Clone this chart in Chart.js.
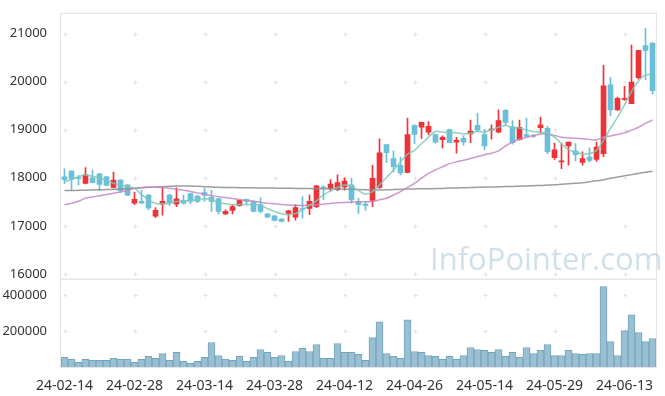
<!DOCTYPE html>
<html>
<head>
<meta charset="utf-8">
<script src="https://cdn.jsdelivr.net/npm/chart.js@4.4.1/dist/chart.umd.min.js"></script>
<style>
  html, body { margin: 0; padding: 0; background: #fff; }
  canvas { display: block; }
</style>
</head>
<body>
<canvas id="stock-chart" width="665" height="396"></canvas>
<script>
// trading days
const dates = [
    "24-02-14","24-02-15","24-02-16","24-02-19","24-02-20","24-02-21","24-02-22","24-02-23","24-02-26","24-02-27",
    "24-02-28","24-02-29","24-03-04","24-03-05","24-03-06","24-03-07","24-03-08","24-03-11","24-03-12","24-03-13",
    "24-03-14","24-03-15","24-03-18","24-03-19","24-03-20","24-03-21","24-03-22","24-03-25","24-03-26","24-03-27",
    "24-03-28","24-03-29","24-04-01","24-04-02","24-04-03","24-04-04","24-04-05","24-04-08","24-04-09","24-04-11",
    "24-04-12","24-04-15","24-04-16","24-04-17","24-04-18","24-04-19","24-04-22","24-04-23","24-04-24","24-04-25",
    "24-04-26","24-04-29","24-04-30","24-05-02","24-05-03","24-05-07","24-05-08","24-05-09","24-05-10","24-05-13",
    "24-05-14","24-05-16","24-05-17","24-05-20","24-05-21","24-05-22","24-05-23","24-05-24","24-05-27","24-05-28",
    "24-05-29","24-05-30","24-05-31","24-06-03","24-06-04","24-06-05","24-06-07","24-06-10","24-06-11","24-06-12",
    "24-06-13","24-06-14","24-06-17","24-06-18","24-06-19"
];

const opens = [
    18020,18140,17990,17880,18000,18080,18020,17800,17950,17850,
    17470,17510,17640,17200,17450,17640,17450,17530,17670,17620,
    17690,17590,17560,17250,17320,17420,17550,17510,17440,17250,
    17210,17140,17260,17180,17360,17360,17400,17810,17780,17750,
    17810,17850,17510,17450,17530,17800,18690,18400,18260,18110,
    19090,19050,18950,18900,18790,19000,18740,18820,18910,19090,
    18900,18990,18950,19400,19060,18790,18900,18880,19040,19030,
    18420,18330,18660,18560,18320,18430,18380,18500,19930,19410,
    19630,19540,20080,20750,20800
];
const highs = [
    18185,18150,18050,18210,18165,18090,18030,18120,17960,17860,
    17700,17740,17650,17380,17780,17660,17790,17640,17680,17640,
    17780,17740,17570,17330,17430,17530,17560,17520,17580,17260,
    17220,17150,17320,17440,17610,17640,17840,17830,17960,18060,
    18000,17990,17570,17500,18260,18810,18700,18560,18430,19240,
    19100,19160,19170,18910,18870,19010,18840,18870,19200,19340,
    19000,19100,19410,19410,19190,19200,19240,18900,19260,19070,
    18720,18710,18740,18710,18540,18620,18740,20340,20090,19680,
    19900,20760,20650,21110,20810
];
const lows = [
    17877,17750,17850,17870,17890,17730,17830,17790,17690,17630,
    17440,17470,17330,17170,17220,17420,17400,17450,17460,17480,
    17510,17300,17250,17230,17250,17410,17430,17290,17270,17170,
    17100,17080,17090,17120,17160,17230,17380,17540,17720,17730,
    17740,17470,17260,17320,17400,17780,18320,18120,18060,18100,
    18710,18820,18890,18720,18620,18730,18510,18680,18730,18960,
    18580,18800,18930,19100,18700,18780,18850,18840,18930,18500,
    18380,18190,18260,18350,18260,18330,18340,18440,19290,19400,
    19610,19540,20050,20040,19740
];
const closes = [
    17960,17970,17980,18060,17900,17860,17840,17950,17730,17640,
    17550,17470,17370,17320,17510,17470,17560,17470,17510,17510,
    17640,17510,17300,17300,17400,17530,17510,17300,17300,17180,
    17110,17090,17310,17380,17340,17510,17830,17790,17870,17900,
    17930,17540,17440,17420,17990,18520,18520,18230,18100,18900,
    18900,19150,19070,18740,18840,18730,18780,18740,18970,18990,
    18660,19010,19190,19150,18730,19050,18860,18860,19100,18540,
    18580,18350,18740,18480,18400,18360,18640,19910,19410,19650,
    19650,19990,20650,20650,19810
];
const volumes = [
    53000,42000,26000,42000,37000,37000,37000,48000,42000,42000,
    26000,42000,59000,48000,75000,37000,81000,31000,20000,31000,
    53000,136000,64000,42000,37000,59000,31000,53000,97000,81000,
    53000,64000,31000,86000,103000,86000,125000,48000,48000,130000,
    81000,81000,70000,37000,163000,251000,75000,59000,48000,262000,
    86000,81000,64000,59000,42000,59000,42000,64000,108000,97000,
    92000,81000,97000,59000,81000,53000,108000,75000,92000,125000,
    64000,64000,92000,75000,70000,75000,75000,446000,141000,64000,
    202000,290000,191000,141000,158000
];

// moving averages
const ma5 = [
    17918,17960,18020,18055,18030,17990,17950,17885,17850,17815,
    17780,17650,17541,17471,17460,17471,17506,17515,17527,17545,
    17562,17540,17486,17459,17438,17445,17445,17440,17424,17360,
    17300,17250,17232,17253,17335,17424,17520,17644,17726,17800,
    17850,17829,17732,17657,17712,17850,18007,18158,18329,18488,
    18570,18707,18844,18961,18947,18940,18935,18912,18926,18961,
    18953,18994,19050,19085,19035,19035,18994,18961,18947,18926,
    18844,18706,18583,18535,18501,18501,18570,18776,19029,19255,
    19516,19790,20011,20134,20146
];
const ma20 = [
    17438,17470,17510,17574,17600,17625,17650,17677,17705,17735,
    17780,17795,17800,17800,17795,17780,17760,17740,17712,17685,
    17657,17630,17605,17590,17570,17545,17527,17510,17490,17472,
    17459,17445,17435,17428,17424,17430,17438,17450,17465,17478,
    17486,17492,17498,17502,17506,17540,17574,17640,17712,17800,
    17883,17990,18089,18165,18226,18294,18330,18364,18400,18440,
    18480,18510,18560,18660,18740,18800,18840,18880,18910,18912,
    18880,18844,18830,18820,18809,18798,18788,18844,18870,18900,
    18933,18990,19050,19130,19200
];
const ma60 = [
    17732,17735,17738,17742,17746,17750,17755,17760,17765,17770,
    17780,17790,17800,17808,17815,17822,17829,17829,17826,17822,
    17815,17808,17800,17798,17796,17794,17792,17790,17788,17786,
    17784,17782,17780,17778,17776,17774,17772,17770,17768,17765,
    17762,17758,17754,17750,17747,17747,17750,17755,17760,17765,
    17767,17770,17772,17775,17778,17785,17788,17792,17795,17800,
    17805,17808,17812,17816,17820,17825,17830,17835,17840,17848,
    17855,17865,17875,17885,17897,17915,17935,17960,17990,18015,
    18040,18065,18090,18115,18137
];

const priceTicks = [16000, 17000, 18000, 19000, 20000, 21000];
const volumeTicks = [200000, 400000];

const RED = '#ec3338';
const BLUE = '#69c0d8';

const candleColors = opens.map((o, i) => closes[i] >= o ? RED : BLUE);

// plus-shaped grid marks, frame boxes and the watermark
const decorPlugin = {
    id: 'decor',
    beforeDatasetsDraw(chart) {
        const ctx = chart.ctx;
        const x = chart.scales.x;
        const y = chart.scales.y;
        const yv = chart.scales.yv;
        ctx.save();

        // frames
        ctx.strokeStyle = '#e4e4e4';
        ctx.lineWidth = 1;
        ctx.strokeRect(x.left - 0.5, y.top - 0.5, x.right - x.left + 1, y.bottom - y.top + 1);
        ctx.strokeRect(x.left - 0.5, yv.top + 0.5, x.right - x.left + 1, yv.bottom - yv.top);

        // plus marks
        ctx.strokeStyle = '#e2e2e2';
        const xs = [];
        for (let i = 0; i < dates.length; i += 10) xs.push(Math.round(x.getPixelForValue(i)) + 0.5);
        const ys = priceTicks.map(v => Math.round(y.getPixelForValue(v)) + 0.5)
            .concat(volumeTicks.map(v => Math.round(yv.getPixelForValue(v)) + 0.5));
        ctx.beginPath();
        xs.forEach(px => {
            ys.forEach(py => {
                ctx.moveTo(px - 2, py); ctx.lineTo(px + 2, py);
                ctx.moveTo(px, py - 2); ctx.lineTo(px, py + 2);
            });
        });
        ctx.stroke();

        // watermark
        ctx.fillStyle = 'rgba(175, 203, 220, 0.6)';
        ctx.font = '31px "Open Sans", "Noto Sans", sans-serif';
        ctx.textAlign = 'left';
        ctx.textBaseline = 'alphabetic';
        ctx.fillText('InfoPointer.com', x.left + 369, y.bottom - 9);
        ctx.restore();
    }
};

const plainNumber = v => String(v);

const buildChart = () => {
    const canvas = document.getElementById('stock-chart');
    new Chart(canvas, {
        data: {
            labels: dates,
            datasets: [
                {
                    type: 'line', label: 'MA5', data: ma5, yAxisID: 'y',
                    borderColor: 'rgba(125, 200, 185, 0.85)', borderWidth: 1.5,
                    pointRadius: 0, tension: 0.35, order: 0
                },
                {
                    type: 'line', label: 'MA20', data: ma20, yAxisID: 'y',
                    borderColor: 'rgba(196, 134, 196, 0.85)', borderWidth: 1.5,
                    pointRadius: 0, tension: 0.35, order: 0
                },
                {
                    type: 'line', label: 'MA60', data: ma60, yAxisID: 'y',
                    borderColor: 'rgba(140, 140, 140, 0.85)', borderWidth: 1.5,
                    pointRadius: 0, tension: 0.35, order: 0
                },
                {
                    type: 'bar', label: 'wick', yAxisID: 'y',
                    data: lows.map((l, i) => [l, highs[i]]),
                    backgroundColor: candleColors, barThickness: 1,
                    grouped: false, order: 2
                },
                {
                    type: 'bar', label: 'body', yAxisID: 'y',
                    data: opens.map((o, i) => [o, closes[i]]),
                    backgroundColor: candleColors, barThickness: 5,
                    minBarLength: 1, grouped: false, order: 1
                },
                {
                    type: 'bar', label: 'volume', yAxisID: 'yv',
                    data: volumes,
                    backgroundColor: '#98c0d2', borderColor: '#74a4bc', borderWidth: 1,
                    barPercentage: 1, categoryPercentage: 1, grouped: false, order: 3
                }
            ]
        },
        options: {
            responsive: false,
            animation: false,
            devicePixelRatio: 1,
            layout: { padding: { top: 10, right: 9, left: 0, bottom: 0 } },
            plugins: { legend: { display: false }, tooltip: { enabled: false } },
            scales: {
                x: {
                    type: 'category',
                    offset: true,
                    grid: { display: false },
                    border: { display: false },
                    afterFit: axis => { axis.height = 29; },
                    ticks: {
                        autoSkip: false, maxRotation: 0, padding: 3,
                        color: '#333', font: { family: 'Noto Sans', size: 14 },
                        callback: (v, i) => i % 10 === 0 ? dates[i] : ''
                    }
                },
                yv: {
                    type: 'linear', position: 'left', stack: 'panes', stackWeight: 1,
                    min: 0, max: 490000,
                    grid: { display: false }, border: { display: false },
                    afterFit: axis => { axis.width = 61; },
                    afterBuildTicks: axis => { axis.ticks = volumeTicks.map(v => ({ value: v })); },
                    ticks: { color: '#333', padding: 6, font: { family: 'Noto Sans', size: 13 }, callback: plainNumber }
                },
                y: {
                    type: 'linear', position: 'left', stack: 'panes', stackWeight: 3,
                    min: 15900, max: 21410,
                    grid: { display: false }, border: { display: false },
                    afterFit: axis => { axis.width = 61; },
                    afterBuildTicks: axis => { axis.ticks = priceTicks.map(v => ({ value: v })); },
                    ticks: { color: '#333', padding: 6, font: { family: 'Noto Sans', size: 13 }, callback: plainNumber }
                }
            }
        },
        plugins: [decorPlugin]
    });
}

onload = () => {
    buildChart();
}
</script>
</body>
</html>
